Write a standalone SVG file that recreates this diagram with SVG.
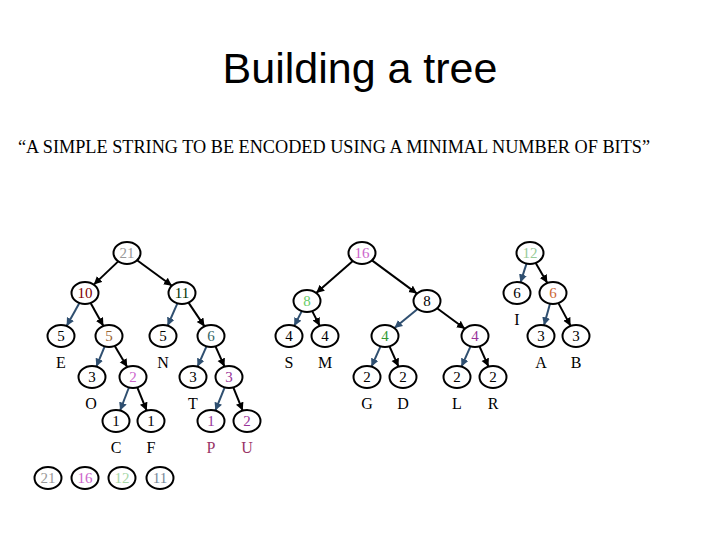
<svg xmlns="http://www.w3.org/2000/svg" width="720" height="540" viewBox="0 0 720 540">
<defs>
<marker id="ab" markerUnits="userSpaceOnUse" markerWidth="10" markerHeight="10" refX="8" refY="4" orient="auto"><path d="M0,0 L8,4 L0,8 z" fill="#000"/></marker>
<marker id="au" markerUnits="userSpaceOnUse" markerWidth="10" markerHeight="10" refX="8" refY="4" orient="auto"><path d="M0,0 L8,4 L0,8 z" fill="#2f4f70"/></marker>
</defs>
<style>
.n ellipse{fill:#fff;stroke:#000;stroke-width:2}
.n text,.lb{font-family:"Liberation Serif","Times New Roman",serif;font-size:15px;text-anchor:middle}
.lb{font-size:16px;fill:#000}
.k{stroke:#000;stroke-width:2;fill:none;marker-end:url(#ab)}
.u{stroke:#2f4f70;stroke-width:2;fill:none;marker-end:url(#au)}
</style>
<rect width="720" height="540" fill="#fff"/>
<text x="360" y="83" font-family="Liberation Sans, Arial, sans-serif" font-size="43" text-anchor="middle">Building a tree</text>
<text x="18" y="153" font-family="Liberation Serif, Times New Roman, serif" font-size="18" textLength="632" lengthAdjust="spacingAndGlyphs">“A SIMPLE STRING TO BE ENCODED USING A MINIMAL NUMBER OF BITS”</text>
<g id="connectors">
<path class="k" d="M118.2,261.4 L93.8,284.6"/>
<path class="k" d="M137.1,260.3 L171.9,285.7"/>
<path class="u" d="M79.4,303 L66.6,326"/>
<path class="k" d="M90.6,303 L103.4,326"/>
<path class="u" d="M177.4,303.3 L167.6,325.7"/>
<path class="k" d="M188.5,302.6 L204.5,326.4"/>
<path class="u" d="M104.7,346.4 L96.3,366.6"/>
<path class="k" d="M114.8,345.9 L127.2,367.1"/>
<path class="u" d="M206.5,346.4 L197.5,366.6"/>
<path class="k" d="M215.5,346.4 L224.5,366.6"/>
<path class="u" d="M128.9,387.5 L120.1,410.5"/>
<path class="k" d="M137.3,387.4 L146.7,410.6"/>
<path class="u" d="M224.7,387.4 L215.3,410.6"/>
<path class="k" d="M233.3,387.4 L242.7,410.6"/>
<path class="k" d="M352.8,261 L316.2,293"/>
<path class="k" d="M372,260.4 L417,293.6"/>
<path class="u" d="M301.8,311.1 L294.2,325.9"/>
<path class="k" d="M312.2,311.1 L319.8,325.9"/>
<path class="u" d="M417.6,308.9 L394.4,328.1"/>
<path class="k" d="M437.1,308.3 L464.9,328.7"/>
<path class="u" d="M380.5,346.4 L371.5,366.6"/>
<path class="k" d="M389.5,346.4 L398.5,366.6"/>
<path class="u" d="M470.5,346.4 L461.5,366.6"/>
<path class="k" d="M479.5,346.4 L488.5,366.6"/>
<path class="u" d="M526.5,263.6 L520.5,282.4"/>
<path class="k" d="M535.7,263 L547.3,283"/>
<path class="u" d="M550,303.7 L544,325.3"/>
<path class="k" d="M558.4,303.1 L570.6,325.9"/>
</g>
<g id="n21" class="n"><ellipse cx="127" cy="253" rx="13.5" ry="11"/><text x="127" y="258" fill="#999999">21</text></g>
<g id="n10" class="n"><ellipse cx="85" cy="293" rx="13.5" ry="11"/><text x="85" y="298" fill="#800000">10</text></g>
<g id="n11" class="n"><ellipse cx="182" cy="293" rx="13.5" ry="11"/><text x="182" y="298" fill="#003300">11</text></g>
<g id="n5e" class="n"><ellipse cx="61" cy="336" rx="13.5" ry="11"/><text x="61" y="341" fill="#000">5</text></g>
<g id="n5b" class="n"><ellipse cx="109" cy="336" rx="13.5" ry="11"/><text x="109" y="341" fill="#996633">5</text></g>
<g id="n5n" class="n"><ellipse cx="163" cy="336" rx="13.5" ry="11"/><text x="163" y="341" fill="#000">5</text></g>
<g id="n6t" class="n"><ellipse cx="211" cy="336" rx="13.5" ry="11"/><text x="211" y="341" fill="#336666">6</text></g>
<g id="n3o" class="n"><ellipse cx="92" cy="377" rx="13.5" ry="11"/><text x="92" y="382" fill="#000">3</text></g>
<g id="n2" class="n"><ellipse cx="133" cy="377" rx="13.5" ry="11"/><text x="133" y="382" fill="#cc66cc">2</text></g>
<g id="n3t" class="n"><ellipse cx="193" cy="377" rx="13.5" ry="11"/><text x="193" y="382" fill="#000">3</text></g>
<g id="n3p" class="n"><ellipse cx="229" cy="377" rx="13.5" ry="11"/><text x="229" y="382" fill="#993399">3</text></g>
<g id="n1c" class="n"><ellipse cx="116" cy="421" rx="13.5" ry="11"/><text x="116" y="426" fill="#000">1</text></g>
<g id="n1f" class="n"><ellipse cx="151" cy="421" rx="13.5" ry="11"/><text x="151" y="426" fill="#000">1</text></g>
<g id="n1p" class="n"><ellipse cx="211" cy="421" rx="13.5" ry="11"/><text x="211" y="426" fill="#993399">1</text></g>
<g id="n2u" class="n"><ellipse cx="247" cy="421" rx="13.5" ry="11"/><text x="247" y="426" fill="#993399">2</text></g>
<g id="n16" class="n"><ellipse cx="362" cy="253" rx="13.5" ry="11"/><text x="362" y="258" fill="#cc66cc">16</text></g>
<g id="n8g" class="n"><ellipse cx="307" cy="301" rx="13.5" ry="11"/><text x="307" y="306" fill="#66cc66">8</text></g>
<g id="n8" class="n"><ellipse cx="427" cy="301" rx="13.5" ry="11"/><text x="427" y="306" fill="#000">8</text></g>
<g id="n4s" class="n"><ellipse cx="289" cy="336" rx="13.5" ry="11"/><text x="289" y="341" fill="#000">4</text></g>
<g id="n4m" class="n"><ellipse cx="325" cy="336" rx="13.5" ry="11"/><text x="325" y="341" fill="#000">4</text></g>
<g id="n4g" class="n"><ellipse cx="385" cy="336" rx="13.5" ry="11"/><text x="385" y="341" fill="#339933">4</text></g>
<g id="n4p" class="n"><ellipse cx="475" cy="336" rx="13.5" ry="11"/><text x="475" y="341" fill="#993399">4</text></g>
<g id="n2g" class="n"><ellipse cx="367" cy="377" rx="13.5" ry="11"/><text x="367" y="382" fill="#000">2</text></g>
<g id="n2d" class="n"><ellipse cx="403" cy="377" rx="13.5" ry="11"/><text x="403" y="382" fill="#000">2</text></g>
<g id="n2l" class="n"><ellipse cx="457" cy="377" rx="13.5" ry="11"/><text x="457" y="382" fill="#000">2</text></g>
<g id="n2r" class="n"><ellipse cx="493" cy="377" rx="13.5" ry="11"/><text x="493" y="382" fill="#000">2</text></g>
<g id="n12" class="n"><ellipse cx="530" cy="253" rx="13.5" ry="11"/><text x="530" y="258" fill="#99cc99">12</text></g>
<g id="n6i" class="n"><ellipse cx="517" cy="293" rx="13.5" ry="11"/><text x="517" y="298" fill="#000">6</text></g>
<g id="n6o" class="n"><ellipse cx="553" cy="293" rx="13.5" ry="11"/><text x="553" y="298" fill="#cc6633">6</text></g>
<g id="n3a" class="n"><ellipse cx="541" cy="336" rx="13.5" ry="11"/><text x="541" y="341" fill="#000">3</text></g>
<g id="n3b" class="n"><ellipse cx="576" cy="336" rx="13.5" ry="11"/><text x="576" y="341" fill="#000">3</text></g>
<g id="legend21" class="n"><ellipse cx="48" cy="478" rx="13.5" ry="11"/><text x="48" y="483" fill="#999999">21</text></g>
<g id="legend16" class="n"><ellipse cx="85" cy="478" rx="13.5" ry="11"/><text x="85" y="483" fill="#cc66cc">16</text></g>
<g id="legend12" class="n"><ellipse cx="122" cy="478" rx="13.5" ry="11"/><text x="122" y="483" fill="#a8d8a8">12</text></g>
<g id="legend11" class="n"><ellipse cx="160" cy="478" rx="13.5" ry="11"/><text x="160" y="483" fill="#778899">11</text></g>
<g id="labels">
<text class="lb" x="61" y="368">E</text>
<text class="lb" x="163" y="368">N</text>
<text class="lb" x="91" y="409">O</text>
<text class="lb" x="193" y="409">T</text>
<text class="lb" x="116" y="453">C</text>
<text class="lb" x="151" y="453">F</text>
<text class="lb" x="211" y="453" fill="#993366" style="fill:#993366">P</text>
<text class="lb" x="247" y="453" style="fill:#993366">U</text>
<text class="lb" x="289" y="368">S</text>
<text class="lb" x="325" y="368">M</text>
<text class="lb" x="367" y="409">G</text>
<text class="lb" x="403" y="409">D</text>
<text class="lb" x="457" y="409">L</text>
<text class="lb" x="493" y="409">R</text>
<text class="lb" x="517" y="325">I</text>
<text class="lb" x="541" y="368">A</text>
<text class="lb" x="576" y="368">B</text>
</g>
</svg>
